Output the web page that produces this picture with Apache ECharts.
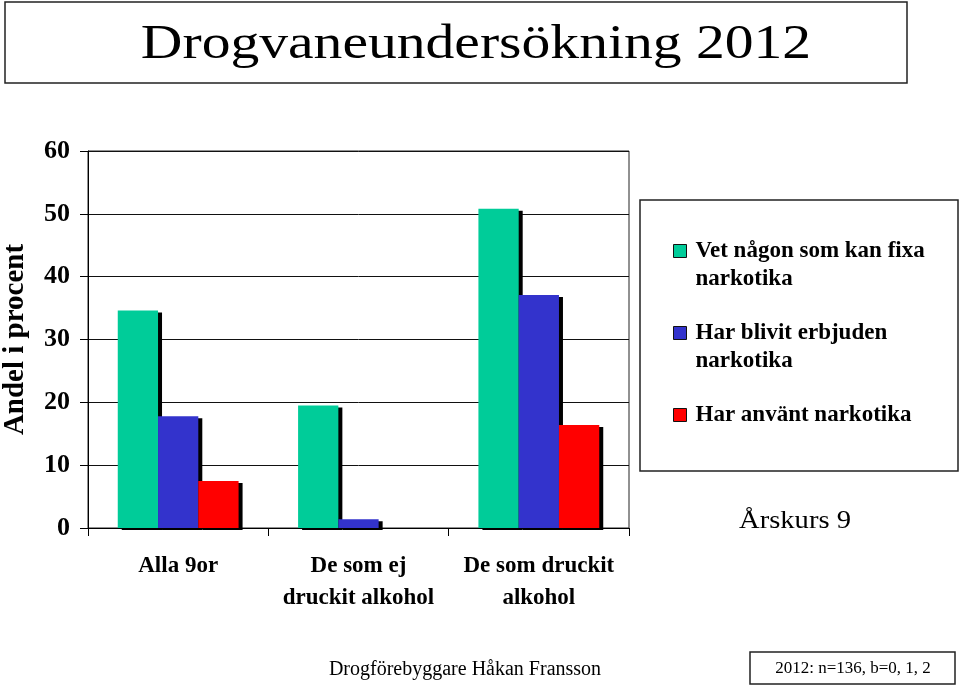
<!DOCTYPE html>
<html>
<head>
<meta charset="utf-8">
<script src="https://cdn.jsdelivr.net/npm/echarts@6/dist/echarts.min.js"></script>
<style>html,body{margin:0;padding:0;background:#fff}#c{width:960px;height:685px}</style>
</head>
<body>
<div id="c"></div>
<script>
const categories = ['Alla 9or', 'De som ej\ndruckit alkohol', 'De som druckit\nalkohol'];
const seriesNames = ['Vet någon som kan fixa\nnarkotika', 'Har blivit erbjuden\nnarkotika', 'Har använt narkotika'];
const vetNagon = [34.6, 19.5, 50.8];
const erbjuden = [17.8, 1.4, 37.1];
const anvant = [7.5, 0, 16.4];
const yTicks = [0, 10, 20, 30, 40, 50, 60];
const colors = ['#00CC99', '#3333CC', '#FF0000'];

const F = 'Liberation Serif, Times New Roman, serif';
const chart = echarts.init(document.getElementById('c'));
const values = [vetNagon, erbjuden, anvant];

chart.setOption({
  animation: false,
  backgroundColor: '#fff',
  grid: { left: 88, right: 331, top: 151, bottom: 157, show: true, borderColor: '#222', borderWidth: 1,
          containLabel: false, outerBoundsMode: 'none' },
  xAxis: {
    type: 'category', data: categories,
    axisLine: { lineStyle: { color: '#000', width: 1 } },
    axisTick: { show: true, length: 8, lineStyle: { color: '#000' } },
    axisLabel: { interval: 0, color: '#000', fontFamily: F, fontWeight: 'bold', fontSize: 23, lineHeight: 32, margin: 22 }
  },
  yAxis: {
    type: 'value', min: yTicks[0], max: yTicks[yTicks.length - 1], interval: 10,
    name: 'Andel i procent', nameLocation: 'middle', nameRotate: 90, nameGap: 58,
    nameTextStyle: { color: '#000', fontFamily: F, fontWeight: 'bold', fontSize: 29 },
    axisLine: { show: true, lineStyle: { color: '#000' } },
    axisTick: { show: true, length: 8, lineStyle: { color: '#000' } },
    axisLabel: { color: '#000', fontFamily: F, fontWeight: 'bold', fontSize: 26, margin: 18 },
    splitLine: { lineStyle: { color: '#111', width: 1 } }
  },
  legend: {
    orient: 'vertical', left: 673, top: 209, padding: 0, itemGap: -2,
    itemWidth: 13, itemHeight: 13, icon: 'rect',
    itemStyle: { borderColor: '#111', borderWidth: 1 },
    textStyle: { color: '#000', fontFamily: F, fontWeight: 'bold', fontSize: 23, lineHeight: 28, padding: [0, 0, 0, 4] },
    formatter: function (name) {
      return name.indexOf('\n') >= 0 ? ' \n' + name : ' \n' + name + '\n ';
    },
    data: seriesNames
  },
  series: seriesNames.map((n, i) => ({
    type: 'bar', name: n, data: values[i],
    barGap: '0%', barCategoryGap: '33%',
    itemStyle: { color: colors[i], borderWidth: 0,
      shadowColor: '#000', shadowBlur: 0, shadowOffsetX: 4, shadowOffsetY: 2 }
  })),
  graphic: [
    { type: 'rect', shape: { x: 5, y: 2, width: 902, height: 81 }, style: { fill: 'none', stroke: '#222', lineWidth: 1.5 } },
    { type: 'text', x: 476, y: 45, scaleX: 1.2, style: { text: 'Drogvaneundersökning 2012', font: '48px ' + F, fill: '#000', align: 'center', verticalAlign: 'middle' } },
    { type: 'rect', shape: { x: 640, y: 200, width: 318, height: 271 }, style: { fill: 'none', stroke: '#222', lineWidth: 1.5 } },
    { type: 'text', x: 795, y: 521, scaleX: 1.1, style: { text: 'Årskurs 9', font: '26px ' + F, fill: '#000', align: 'center', verticalAlign: 'middle' } },
    { type: 'text', x: 465, y: 670, style: { text: 'Drogförebyggare Håkan Fransson', font: '20px ' + F, fill: '#000', align: 'center', verticalAlign: 'middle' } },
    { type: 'rect', shape: { x: 750, y: 652, width: 205, height: 32 }, style: { fill: 'none', stroke: '#222', lineWidth: 1.5 } },
    { type: 'text', x: 853, y: 669, style: { text: '2012: n=136, b=0, 1, 2', font: '17px ' + F, fill: '#000', align: 'center', verticalAlign: 'middle' } }
  ]
});
</script>
</body>
</html>
